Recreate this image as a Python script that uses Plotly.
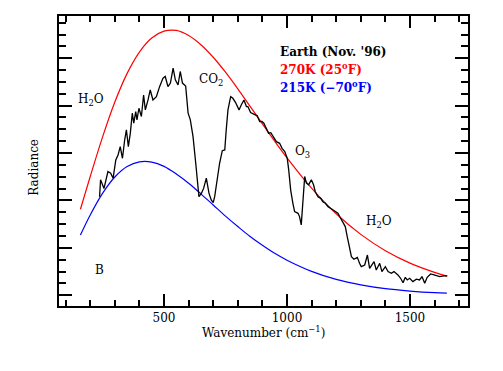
import plotly.graph_objects as go

# Planck curves
planck_wn = [160, 200, 250, 300, 350, 400, 450, 500, 550, 600, 650, 700, 750, 800,
             850, 900, 950, 1000, 1100, 1200, 1300, 1400, 1500, 1600, 1650]
b270 = [36.3, 50.1, 66.7, 81.5, 93.6, 102.6, 108.5, 111.4, 111.7, 109.6, 105.7, 100.4,
        94.1, 87.1, 79.7, 72.3, 65.0, 58.0, 45.2, 34.4, 25.7, 18.8, 13.6, 9.7, 8.1]
b215 = [25.4, 33.9, 43.0, 49.9, 54.3, 56.3, 56.2, 54.4, 51.2, 47.3, 42.8, 38.1,
        33.4, 29.0, 24.8, 21.1, 17.7, 14.8, 10.1, 6.7, 4.4, 2.8, 1.8, 1.1, 0.9]

# Measured Earth spectrum (Nov. '96)
earth_wn = [238, 242, 256, 272, 283, 293, 304, 313, 322, 331, 340, 347, 355, 363, 371,
            377, 385, 390, 398, 408, 417, 424, 435, 444, 455, 469, 482, 496, 505, 516,
            526, 537, 546, 557, 566, 575, 588, 598, 607, 618, 629, 642, 652, 661, 672,
            683, 692, 700, 706, 715, 726, 737, 747, 753, 760, 771, 780, 791, 805, 814,
            825, 835, 841, 852, 866, 879, 889, 898, 906, 912, 920, 925, 934, 943, 957,
            970, 980, 991, 1001, 1007, 1015, 1024, 1031, 1045, 1051, 1058, 1066, 1072,
            1079, 1088, 1099, 1108, 1115, 1126, 1137, 1146, 1156, 1167, 1177, 1187, 1196,
            1207, 1218, 1228, 1237, 1245, 1255, 1262, 1272, 1286, 1295, 1302, 1316, 1327,
            1336, 1354, 1363, 1377, 1386, 1400, 1411, 1424, 1435, 1451, 1462, 1472, 1481,
            1489, 1499, 1512, 1526, 1539, 1549, 1560, 1570, 1584, 1598, 1607, 1621, 1638, 1652]
earth_rad = [41.6, 48.7, 45.1, 52.2, 51.5, 49.4, 57.1, 59.2, 62.7, 57.8, 65.5, 69.8, 62.7,
             68.4, 76.8, 72.6, 77.5, 74.0, 78.9, 75.4, 84.5, 78.2, 82.4, 86.6, 82.4, 83.8,
             88.0, 91.6, 92.3, 88.0, 89.5, 95.8, 90.9, 88.7, 94.4, 89.5, 88.3, 76.8, 74.0,
             66.9, 55.7, 41.6, 43.0, 45.1, 49.4, 43.0, 40.2, 39.1, 41.6, 48.7, 55.7, 61.0,
             61.3, 69.8, 78.2, 83.8, 83.1, 81.3, 78.2, 80.3, 82.4, 79.6, 79.6, 77.1, 76.5,
             75.7, 73.3, 73.3, 72.6, 71.2, 69.1, 68.4, 68.6, 66.9, 64.8, 64.1, 62.0, 60.6,
             57.8, 52.9, 44.4, 38.8, 35.3, 34.6, 33.2, 29.7, 40.2, 50.1, 47.3, 46.6, 48.7,
             46.6, 43.7, 41.6, 40.9, 39.5, 38.8, 37.4, 36.7, 36.0, 35.3, 34.6, 32.5, 30.4,
             29.0, 24.8, 19.1, 16.3, 15.2, 16.0, 13.5, 12.1, 12.8, 17.0, 11.4, 14.2, 10.7,
             13.5, 10.0, 12.1, 10.0, 9.3, 10.0, 8.6, 7.2, 5.3, 7.6, 6.5, 7.2, 5.8, 6.8, 6.5,
             7.9, 5.1, 7.6, 9.0, 8.6, 8.2, 7.9, 8.2, 8.2]

x_tick_vals = [500, 1000, 1500]
x_tick_text = ["500", "1000", "1500"]

FONT = "DejaVu Serif"

fig = go.Figure()
fig.add_trace(go.Scatter(x=planck_wn, y=b270, mode="lines", line=dict(color="#ff0000", width=1.2, shape="spline"), hoverinfo="skip"))
fig.add_trace(go.Scatter(x=planck_wn, y=b215, mode="lines", line=dict(color="#0000ff", width=1.2, shape="spline"), hoverinfo="skip"))
fig.add_trace(go.Scatter(x=earth_wn, y=earth_rad, mode="lines", line=dict(color="black", width=1.3), hoverinfo="skip"))

anns = [
    dict(x=205, y=82.4, text="H<sub>2</sub>O", color="black", xanchor="center"),
    dict(x=692, y=90.9, text="CO<sub>2</sub>", color="black", xanchor="center"),
    dict(x=1062, y=60.3, text="O<sub>3</sub>", color="black", xanchor="center"),
    dict(x=1373, y=30.8, text="H<sub>2</sub>O", color="black", xanchor="center"),
    dict(x=236, y=10.7, text="B", color="black", xanchor="center"),
    dict(x=962, y=102.5, text="<b>Earth (Nov. '96)</b>", color="black", xanchor="left"),
    dict(x=962, y=95.4, text="<b>270K (25<sup>o</sup>F)</b>", color="#ff0000", xanchor="left"),
    dict(x=962, y=88.0, text="<b>215K (−70<sup>o</sup>F)</b>", color="#0000ff", xanchor="left"),
]
for a in anns:
    fig.add_annotation(x=a["x"], y=a["y"], xref="x", yref="y", text=a["text"], showarrow=False,
                       xanchor=a["xanchor"], yanchor="middle",
                       font=dict(family=FONT, size=12, color=a["color"]))

fig.add_annotation(x=-0.084, y=0.479, xref="paper", yref="paper", text="Radiance", textangle=-90,
                   showarrow=False, font=dict(family=FONT, size=12, color="black"))
fig.add_annotation(x=0.499, y=-0.0897, xref="paper", yref="paper", text="Wavenumber (cm<sup>−1</sup>)",
                   showarrow=False, yanchor="middle", font=dict(family=FONT, size=12, color="black"))

axis_common = dict(showline=True, linecolor="black", linewidth=1.5, mirror="ticks",
                   ticks="inside", tickcolor="black", tickwidth=1.5,
                   showgrid=False, zeroline=False)
fig.update_xaxes(range=[73, 1736], tickmode="array", tickvals=x_tick_vals, ticktext=x_tick_text, ticklen=12,
                 minor=dict(dtick=100, tick0=0, ticks="inside", ticklen=6, tickcolor="black", tickwidth=1.5, showgrid=False),
                 tickfont=dict(family=FONT, size=12, color="black"), **axis_common)
fig.update_yaxes(range=[-4.5, 117.8], tick0=0, dtick=20, ticklen=13, showticklabels=False,
                 minor=dict(dtick=5, tick0=0, ticks="inside", ticklen=7, tickcolor="black", tickwidth=1.5, showgrid=False),
                 **axis_common)
fig.update_layout(width=503, height=371, margin=dict(l=59, r=35, t=16, b=65),
                  paper_bgcolor="white", plot_bgcolor="white", showlegend=False)

fig.write_html("out.html", config={"displayModeBar": False},
               post_script="document.body.style.margin='0px';")
